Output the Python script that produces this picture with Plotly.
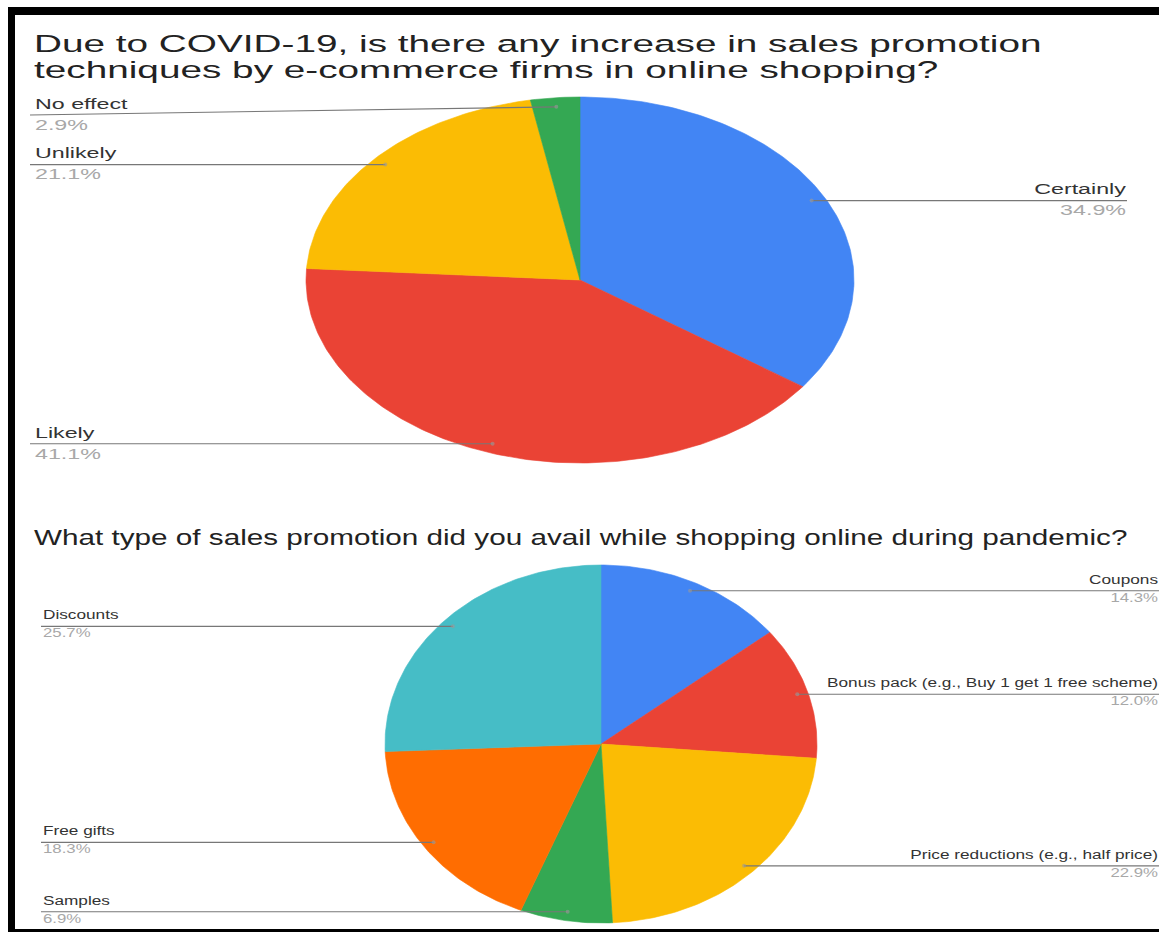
import numpy as np
import plotly.graph_objects as go

# ---------------- data ----------------
title1_lines = ["Due to COVID-19, is there any increase in sales promotion",
                "techniques by e-commerce firms in online shopping?"]
q1_labels = ["Certainly", "Likely", "Unlikely", "No effect"]
q1_values = [34.9, 41.1, 21.1, 2.9]
q1_colors = ["#4285F4", "#EA4335", "#FBBC04", "#34A853"]

title2 = "What type of sales promotion did you avail while shopping online during pandemic?"
q2_labels = ["Coupons", "Bonus pack (e.g., Buy 1 get 1 free scheme)",
             "Price reductions (e.g., half price)", "Samples", "Free gifts", "Discounts"]
q2_values = [14.3, 12.0, 22.9, 6.9, 18.3, 25.7]
q2_colors = ["#4285F4", "#EA4335", "#FBBC04", "#34A853", "#FF6D01", "#46BDC6"]

W, H = 1159, 932
FONT = "Liberation Sans, Arial, sans-serif"
# the source screenshot is stretched horizontally; text is widened to match
STRETCH_TOP, STRETCH_BOTTOM, STRETCH_SPLIT_Y = 1.55, 1.40, 500

fig = go.Figure()


def add_text(x, y, text, size, color, align_left=True):
    fig.add_trace(go.Scatter(
        x=[x], y=[y], mode="text", text=[text],
        textposition="middle right" if align_left else "middle left",
        textfont=dict(family=FONT, size=size, color=color),
        cliponaxis=False, hoverinfo="skip", showlegend=False))


def draw_pie(labels, values, colors, cx, cy, rx, ry, left_x, right_x,
             name_size, pct_size, name_dy, pct_dy, text_pad, min_line_y=None):
    total = float(sum(values))
    start = 0.0
    for lab, val, col in zip(labels, values, colors):
        f0 = start / total
        f1 = (start + val) / total
        start += val
        th = np.linspace(f0, f1, max(8, int(400 * (f1 - f0)))) * 2 * np.pi
        xs = np.concatenate([[cx], cx + rx * np.sin(th), [cx]])
        ys = np.concatenate([[cy], cy - ry * np.cos(th), [cy]])
        fig.add_trace(go.Scatter(x=xs, y=ys, mode="lines", fill="toself",
                                 fillcolor=col, line=dict(color=col, width=0.6),
                                 hoverinfo="skip", showlegend=False))
        # leader line + anchor dot
        tm = (f0 + f1) / 2 * 2 * np.pi
        ax = cx + 0.95 * rx * np.sin(tm)
        ay = cy - 0.95 * ry * np.cos(tm)
        ly = ay if min_line_y is None else max(ay, min_line_y)
        left = np.sin(tm) < 0
        ex = left_x if left else right_x
        fig.add_trace(go.Scatter(x=[ex, ax], y=[ly, ay], mode="lines",
                                 line=dict(color="#777777", width=1.1),
                                 hoverinfo="skip", showlegend=False))
        fig.add_trace(go.Scatter(x=[ax], y=[ay], mode="markers",
                                 marker=dict(color="#9a9a9a", size=4, opacity=0.6),
                                 hoverinfo="skip", showlegend=False))
        tx = ex + text_pad if left else ex - 1
        add_text(tx, ly + name_dy, lab, name_size, "#333333", left)
        add_text(tx, ly + pct_dy, f"{val / total * 100:.1f}%", pct_size, "#a8a8a8", left)


# top pie
draw_pie(q1_labels, q1_values, q1_colors, cx=580, cy=280, rx=274, ry=183,
         left_x=30, right_x=1127, name_size=15, pct_size=15,
         name_dy=-10, pct_dy=11, text_pad=5, min_line_y=115)
# bottom pie
draw_pie(q2_labels, q2_values, q2_colors, cx=601, cy=744, rx=216, ry=179,
         left_x=41, right_x=1159, name_size=12.3, pct_size=12,
         name_dy=-10, pct_dy=8, text_pad=2)

# titles
add_text(34, 46, title1_lines[0], 23.5, "#222222")
add_text(34, 72, title1_lines[1], 23.5, "#222222")
add_text(34, 540, title2, 21.2, "#222222")

# black frame of the screenshot
shapes = [
    dict(type="rect", xref="x", yref="y", x0=8, x1=15, y0=7, y1=H, fillcolor="black", line_width=0),
    dict(type="rect", xref="x", yref="y", x0=8, x1=W, y0=7, y1=15, fillcolor="black", line_width=0),
    dict(type="rect", xref="x", yref="y", x0=8, x1=W, y0=929, y1=H, fillcolor="black", line_width=0),
]

fig.update_layout(
    width=W, height=H, margin=dict(l=0, r=0, t=0, b=0),
    paper_bgcolor="white", plot_bgcolor="white",
    xaxis=dict(range=[0, W], visible=False, fixedrange=True),
    yaxis=dict(range=[H, 0], visible=False, fixedrange=True),
    shapes=shapes, showlegend=False,
)

post_js = """
document.body.style.margin = '0';
var gd = document.getElementById('{plot_id}');
function stretchText() {
  gd.querySelectorAll('.textpoint text').forEach(function (t) {
    var y = parseFloat(t.getAttribute('y'));
    var s = y < %d ? (y < 90 ? %f : %f) : %f;
    var a = t.getAttribute('text-anchor');
    t.style.transformBox = 'fill-box';
    t.style.transformOrigin = (a === 'end' ? 'right' : 'left') + ' center';
    t.style.transform = 'scaleX(' + s + ')';
  });
}
stretchText();
if (gd.on) { gd.on('plotly_afterplot', stretchText); }
""" % (STRETCH_SPLIT_Y, STRETCH_TOP * 25 / 23.5, STRETCH_TOP, STRETCH_BOTTOM)

fig.write_html("out.html", post_script=post_js, config={"displayModeBar": False})
